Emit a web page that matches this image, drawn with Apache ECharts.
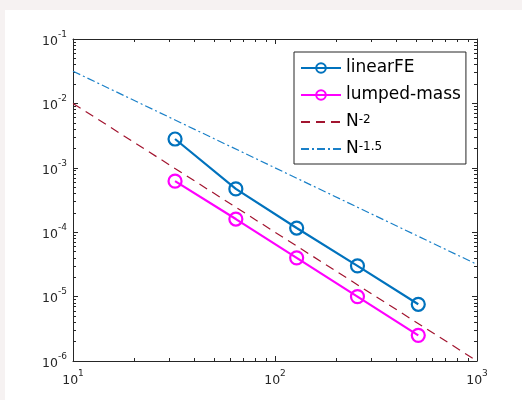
<!DOCTYPE html>
<html>
<head>
<meta charset="utf-8">
<script src="https://cdn.jsdelivr.net/npm/echarts@6/dist/echarts.min.js"></script>
<style>
  html, body { margin: 0; padding: 0; background: #f6f2f2; }
  #frame { position: absolute; left: 5px; top: 10px; width: 517px; height: 390px; background: #ffffff; }
  #chart { position: absolute; left: 0; top: 0; width: 522px; height: 400px; }
</style>
</head>
<body>
<div id="frame"></div>
<div id="chart"></div>
<script>
// ---- data ----
var nValues = [32, 64, 128, 256, 512];
var linearFE = [2.8e-3, 4.7e-4, 1.16e-4, 3.0e-5, 7.6e-6];
var lumpedMass = [6.2e-4, 1.6e-4, 4.0e-5, 1.0e-5, 2.5e-6];
var refX = [10, 1000];
var refN2 = [1e-2, 1e-6];
var refN15 = [Math.pow(10, -1.5), Math.pow(10, -4.5)];
var xMajorTicks = [10, 100, 1000];
var yMajorTicks = [1e-6, 1e-5, 1e-4, 1e-3, 1e-2, 1e-1];
var xMinorTicks = [20, 30, 40, 50, 60, 70, 80, 90, 200, 300, 400, 500, 600, 700, 800, 900];
var yMinorTicks = [];
[1e-6, 1e-5, 1e-4, 1e-3, 1e-2].forEach(function (d) {
  [2, 3, 4, 5, 6, 7, 8, 9].forEach(function (m) { yMinorTicks.push(m * d); });
});
var legendNames = ['linearFE', 'lumped-mass', 'N^-2', 'N^-1.5'];

function pairs(xs, ys) { return xs.map(function (x, i) { return [x, ys[i]]; }); }

var FONT = 'DejaVu Sans';
var AX = '#262626';

function expLabel(v) {
  var e = Math.round(Math.log10(v));
  return '{b|10}{s|' + e + '}';
}
var labelRich = {
  b: { fontSize: 12.5, fontFamily: FONT, color: AX, lineHeight: 18, verticalAlign: 'bottom' },
  s: { fontSize: 9, fontFamily: FONT, color: AX, lineHeight: 18, verticalAlign: 'top' }
};

function xAx(pos, major, showLabel) {
  return {
    type: 'log', logBase: 10, min: 10, max: 1000, position: pos,
    axisLine: { show: major, lineStyle: { color: AX, width: 1 } },
    axisTick: { show: true, inside: true, length: major ? 5 : 3, lineStyle: { color: AX },
      customValues: major ? xMajorTicks : xMinorTicks },
    axisLabel: { show: showLabel, margin: 8, formatter: expLabel, rich: labelRich,
      customValues: xMajorTicks },
    splitLine: { show: false }, minorTick: { show: false }
  };
}
function yAx(pos, major, showLabel) {
  return {
    type: 'log', logBase: 10, min: 1e-6, max: 1e-1, position: pos,
    axisLine: { show: major, lineStyle: { color: AX, width: 1 } },
    axisTick: { show: true, inside: true, length: major ? 5 : 3, lineStyle: { color: AX },
      customValues: major ? yMajorTicks : yMinorTicks },
    axisLabel: { show: showLabel, margin: 6, formatter: expLabel, rich: labelRich,
      customValues: yMajorTicks },
    splitLine: { show: false }, minorTick: { show: false }
  };
}

var chart = echarts.init(document.getElementById('chart'), null, { renderer: 'canvas' });
chart.setOption({
  animation: false,
  backgroundColor: 'transparent',
  grid: { left: 73, top: 39, width: 404, height: 322, containLabel: false },
  xAxis: [xAx('bottom', true, true), xAx('bottom', false, false), xAx('top', true, false), xAx('top', false, false)],
  yAxis: [yAx('left', true, true), yAx('left', false, false), yAx('right', true, false), yAx('right', false, false)],
  legend: {
    left: 294, top: 52, orient: 'vertical',
    padding: [7, 5, 7, 6], itemGap: 10, itemWidth: 40, itemHeight: 12,
    backgroundColor: '#ffffff', borderColor: AX, borderWidth: 1, borderRadius: 0,
    data: [
      { name: legendNames[0] },
      { name: legendNames[1] },
      { name: legendNames[2], itemStyle: { opacity: 0 } },
      { name: legendNames[3], itemStyle: { opacity: 0 } }
    ],
    formatter: function (name) {
      if (name === 'N^-2') return '{t|N}{s|-2}';
      if (name === 'N^-1.5') return '{t|N}{s|-1.5}';
      return '{t|' + name + '}';
    },
    textStyle: {
      color: '#000', fontFamily: FONT, fontSize: 17,
      rich: {
        t: { fontSize: 17, fontFamily: FONT, color: '#000', lineHeight: 16, verticalAlign: 'bottom' },
        s: { fontSize: 12, fontFamily: FONT, color: '#000', lineHeight: 16, verticalAlign: 'top' }
      }
    }
  },
  series: [
    {
      name: 'linearFE', type: 'line', data: pairs(nValues, linearFE),
      symbol: 'circle', symbolSize: 13,
      lineStyle: { color: '#0072BD', width: 2.2 },
      itemStyle: { color: 'rgba(0,0,0,0)', borderColor: '#0072BD', borderWidth: 2.2 }
    },
    {
      name: 'lumped-mass', type: 'line', data: pairs(nValues, lumpedMass),
      symbol: 'circle', symbolSize: 13,
      lineStyle: { color: '#FF00FF', width: 2.2 },
      itemStyle: { color: 'rgba(0,0,0,0)', borderColor: '#FF00FF', borderWidth: 2.2 }
    },
    {
      name: 'N^-2', type: 'line', data: pairs(refX, refN2), symbol: 'none',
      lineStyle: { color: '#A2142F', width: 1.2, type: [9, 6] },
      itemStyle: { color: '#A2142F' }
    },
    {
      name: 'N^-1.5', type: 'line', data: pairs(refX, refN15), symbol: 'none',
      lineStyle: { color: '#1a80c8', width: 1.2, type: [8, 3, 2, 3] },
      itemStyle: { color: '#1a80c8' }
    }
  ]
});
</script>
</body>
</html>
